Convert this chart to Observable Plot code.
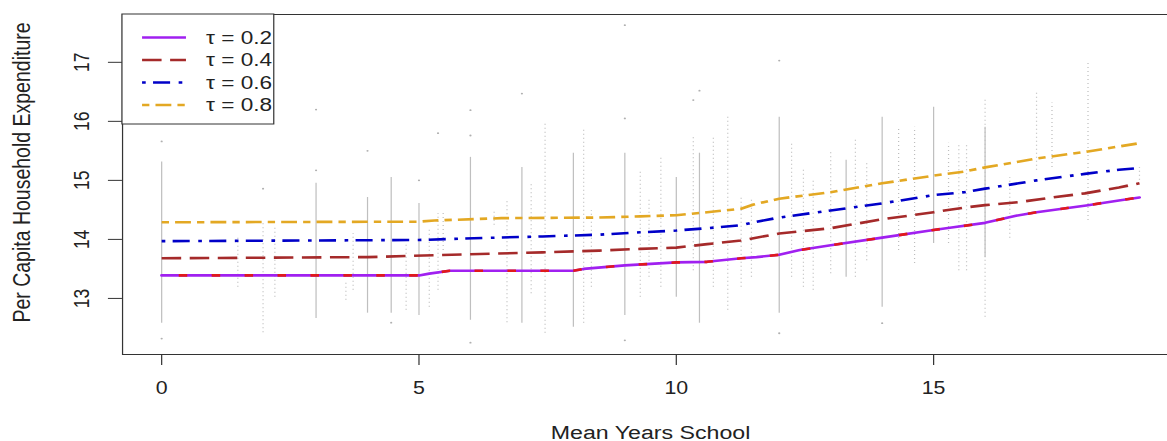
<!DOCTYPE html>
<html><head><meta charset="utf-8">
<script src="https://cdn.jsdelivr.net/npm/d3@7"></script>
<script src="https://cdn.jsdelivr.net/npm/@observablehq/plot@0.6"></script>
<style>
html,body{margin:0;padding:0;background:#fff;}
#chart{width:1167px;height:441px;overflow:hidden;}
</style></head><body><div id="chart"></div>
<script>
// ---- data ----
const xTicks = [0, 5, 10, 15];
const yTicks = [13, 14, 15, 16, 17];
const xTitle = "Mean Years School";
const yTitle = "Per Capita Household Expenditure";
const seriesNames = ["τ = 0.2", "τ = 0.4", "τ = 0.6", "τ = 0.8"];

// fitted quantile lines
const q20X = [0, 5, 5.2, 5.6, 8, 8.2, 9, 10, 10.6, 11.26, 11.56, 12, 12.4, 13, 14, 15, 15.35, 16, 16.6, 17, 18, 18.6, 19];
const q20Y = [13.39, 13.39, 13.42, 13.47, 13.47, 13.5, 13.56, 13.61, 13.62, 13.68, 13.7, 13.74, 13.82, 13.9, 14.03, 14.16, 14.2, 14.28, 14.4, 14.46, 14.58, 14.66, 14.71];
const q40X = [0, 4, 6.5, 7.4, 8.5, 9.3, 10, 10.6, 11.26, 11.5, 12, 13, 14, 15, 15.6, 16, 16.65, 17.3, 17.94, 18.6, 19];
const q40Y = [13.68, 13.7, 13.76, 13.78, 13.81, 13.84, 13.86, 13.92, 13.98, 14.02, 14.1, 14.19, 14.34, 14.46, 14.54, 14.58, 14.63, 14.71, 14.78, 14.88, 14.95];
const q60X = [0, 5, 6.5, 7.4, 8.5, 9.3, 10, 10.6, 11.26, 11.5, 12, 13, 14, 15, 15.6, 16, 16.65, 17, 17.94, 18.6, 19];
const q60Y = [13.97, 13.99, 14.03, 14.05, 14.08, 14.12, 14.15, 14.19, 14.24, 14.29, 14.37, 14.49, 14.61, 14.75, 14.8, 14.86, 14.95, 15.0, 15.11, 15.18, 15.21];
const q80X = [0, 5, 5.3, 6.6, 8.5, 9.3, 10, 10.6, 11.26, 11.5, 12, 13, 14, 15, 15.6, 16, 17, 18, 19];
const q80Y = [14.29, 14.3, 14.32, 14.36, 14.37, 14.39, 14.41, 14.46, 14.52, 14.59, 14.69, 14.8, 14.95, 15.08, 15.15, 15.22, 15.37, 15.49, 15.63];

// scatter: columns of household points (x, highest, lowest, many points?)
const colX    = [0, 1.48, 1.97, 2.2, 3, 3.58, 3.72, 4, 4.46, 4.75, 5, 5.2, 5.37, 5.47, 6, 6.46, 6.71, 7, 7.18, 7.45, 8, 8.2, 8.35, 9, 9.3, 9.47, 9.7, 10, 10.33, 10.45, 10.72, 11, 11.26, 11.46, 12, 12.24, 12.47, 12.66, 13, 13.3, 13.48, 13.7, 14, 14.32, 14.63, 15, 15.29, 15.49, 15.64, 16, 16, 16.48, 17, 17.3, 18, 19];
const colHigh = [15.31, 14.03, 14.27, 14.2, 14.95, 13.31, 14.1, 14.71, 15.05, 13.93, 14.61, 14.19, 14.44, 14.44, 15.39, 14.49, 14.66, 15.22, 14.95, 15.97, 15.46, 15.85, 14.49, 15.46, 15.17, 14.71, 15.39, 15.05, 15.73, 15.46, 15.73, 16.07, 14.71, 14.71, 16.07, 15.63, 15.22, 15.0, 15.51, 15.34, 15.73, 15.29, 16.07, 15.9, 15.9, 16.24, 15.63, 15.63, 15.63, 15.9, 16.41, 15.05, 16.49, 16.31, 17.03, 15.22];
const colLow  = [12.58, 13.19, 12.42, 13.02, 12.66, 12.97, 13.14, 12.75, 12.75, 12.8, 12.71, 12.85, 13.14, 13.81, 12.63, 14.24, 12.59, 12.58, 13.08, 12.41, 12.51, 12.58, 13.19, 12.71, 13.02, 13.36, 13.19, 13.02, 13.47, 12.58, 13.19, 12.8, 13.19, 13.36, 12.75, 13.36, 13.19, 13.14, 13.42, 13.36, 13.36, 13.64, 12.85, 13.81, 13.59, 13.93, 13.93, 13.47, 13.47, 13.69, 12.68, 14.02, 15.17, 15.22, 14.32, 15.0];
const colDense = [1,0,0,0,1,0,0,1,1,0,1,0,0,0,1,0,0,1,0,0,1,0,0,1,0,0,0,1,0,1,0,0,0,0,1,0,0,0,0,1,0,0,1,0,0,1,0,0,0,1,0,0,0,0,0,0];
// isolated points
const outX = [0, 0, 1.97, 3, 3, 4, 4.46, 5, 5.37, 6, 6, 6, 7, 9, 9, 9, 10.33, 10.45, 12, 12, 14];
const outY = [15.66, 12.32, 14.86, 15.17, 16.2, 15.5, 12.59, 15.0, 15.8, 16.19, 15.76, 12.25, 16.47, 17.63, 16.05, 12.29, 16.36, 16.52, 17.03, 12.41, 12.58];

// ---- tables built from the arrays ----
const cols = colX.map((x, i) => ({x, hi: colHigh[i], lo: colLow[i], dense: colDense[i]}));
const pts = outX.map((x, i) => ({x, y: outY[i]}));
const mk = (xs, ys) => xs.map((x, i) => ({x, y: ys[i]}));
const q20 = mk(q20X, q20Y), q40 = mk(q40X, q40Y), q60 = mk(q60X, q60Y), q80 = mk(q80X, q80Y);

const C = {purple: "#a020f0", red: "#e01a1a", brown: "#a52a2a", blue: "#0000c8", gold: "#e3a823"};
const styles = [
  {stroke: C.purple, dash: null},
  {stroke: C.brown, dash: "16,7"},
  {stroke: C.blue, dash: "3,6,14,7"},
  {stroke: C.gold, dash: "6,5,13,5"}
];
const LW = 2.6;
const FONT = "'Liberation Sans', Arial, sans-serif";

const W = 957, H = 441, SCREEN_W = 1167;
const svg = Plot.plot({
  width: W, height: H,
  marginLeft: 100, marginRight: -9, marginTop: 14, marginBottom: 87,
  style: {fontFamily: FONT, background: "#fff", color: "#222", overflow: "hidden"},
  x: {domain: [-0.76, 19.76]},
  y: {domain: [12.05, 17.81]},
  marks: [
    Plot.ruleX(cols.filter(d => !d.dense), {x: "x", y1: "lo", y2: "hi", stroke: "#bdbdbd", strokeWidth: 1, strokeDasharray: "1,3"}),
    Plot.ruleX(cols.filter(d => d.dense), {x: "x", y1: "lo", y2: "hi", stroke: "#bfbfbf", strokeWidth: 1}),
    Plot.dot(pts, {x: "x", y: "y", r: 0.9, fill: "#b0b0b0", stroke: null}),
    Plot.line(q20, {x: "x", y: "y", stroke: C.purple, strokeWidth: LW}),
    Plot.line(q20, {x: "x", y: "y", stroke: C.red, strokeWidth: LW, strokeDasharray: "7,20", strokeDashoffset: -14, strokeLinecap: "butt"}),
    Plot.line(q40, {x: "x", y: "y", stroke: C.brown, strokeWidth: LW, strokeDasharray: styles[1].dash, strokeLinecap: "butt"}),
    Plot.line(q60, {x: "x", y: "y", stroke: C.blue, strokeWidth: LW, strokeDasharray: styles[2].dash, strokeLinecap: "butt"}),
    Plot.line(q80, {x: "x", y: "y", stroke: C.gold, strokeWidth: LW, strokeDasharray: styles[3].dash, strokeLinecap: "butt"}),
    Plot.frame({stroke: "#333", strokeWidth: 1}),
    Plot.axisX({ticks: xTicks, tickSize: 11, tickPadding: 16, fontSize: 17.5, label: null, tickFormat: d => String(d), stroke: "#333", fill: "#222"}),
    Plot.axisY({ticks: yTicks, tickSize: 11.5, label: null, tickFormat: () => "", stroke: "#333"}),
    Plot.text(yTicks, {y: d => d, text: d => String(d), frameAnchor: "left", dx: -33, rotate: -90, textAnchor: "middle", lineAnchor: "middle", fontSize: 17.5, fill: "#222"}),
    Plot.text([xTitle], {frameAnchor: "bottom", dy: 78, lineAnchor: "middle", fontSize: 19, fill: "#222"}),
    Plot.text([yTitle], {frameAnchor: "left", dx: -82, dy: -12, rotate: -90, textAnchor: "middle", lineAnchor: "middle", fontSize: 19.5, fill: "#222"})
  ]
});

// legend box (inside the plot, top-left)
const g = d3.select(svg).append("g").attr("font-family", FONT).attr("text-anchor", "start");
g.append("rect").attr("x", 100).attr("y", 14).attr("width", 124.5).attr("height", 110)
  .attr("fill", "#fff").attr("stroke", "#333").attr("stroke-width", 1);
seriesNames.forEach((name, i) => {
  const y = 37.5 + i * 22.5;
  g.append("line").attr("x1", 116.5).attr("x2", 152.5).attr("y1", y).attr("y2", y)
    .attr("stroke", styles[i].stroke).attr("stroke-width", LW)
    .attr("stroke-dasharray", styles[i].dash).attr("stroke-linecap", "butt");
  g.append("text").attr("x", 169).attr("y", y).attr("dy", "0.35em")
    .attr("text-anchor", "start")
    .attr("font-size", 18.5).attr("fill", "#222").text(name);
});

// the reference is horizontally stretched: stretch the SVG to the window width
svg.setAttribute("width", SCREEN_W);
svg.setAttribute("height", H);
svg.setAttribute("preserveAspectRatio", "none");
svg.style.width = SCREEN_W + "px";
svg.style.height = H + "px";
svg.style.maxWidth = "none";
svg.style.display = "block";
document.getElementById("chart").appendChild(svg);
</script>
</body></html>
